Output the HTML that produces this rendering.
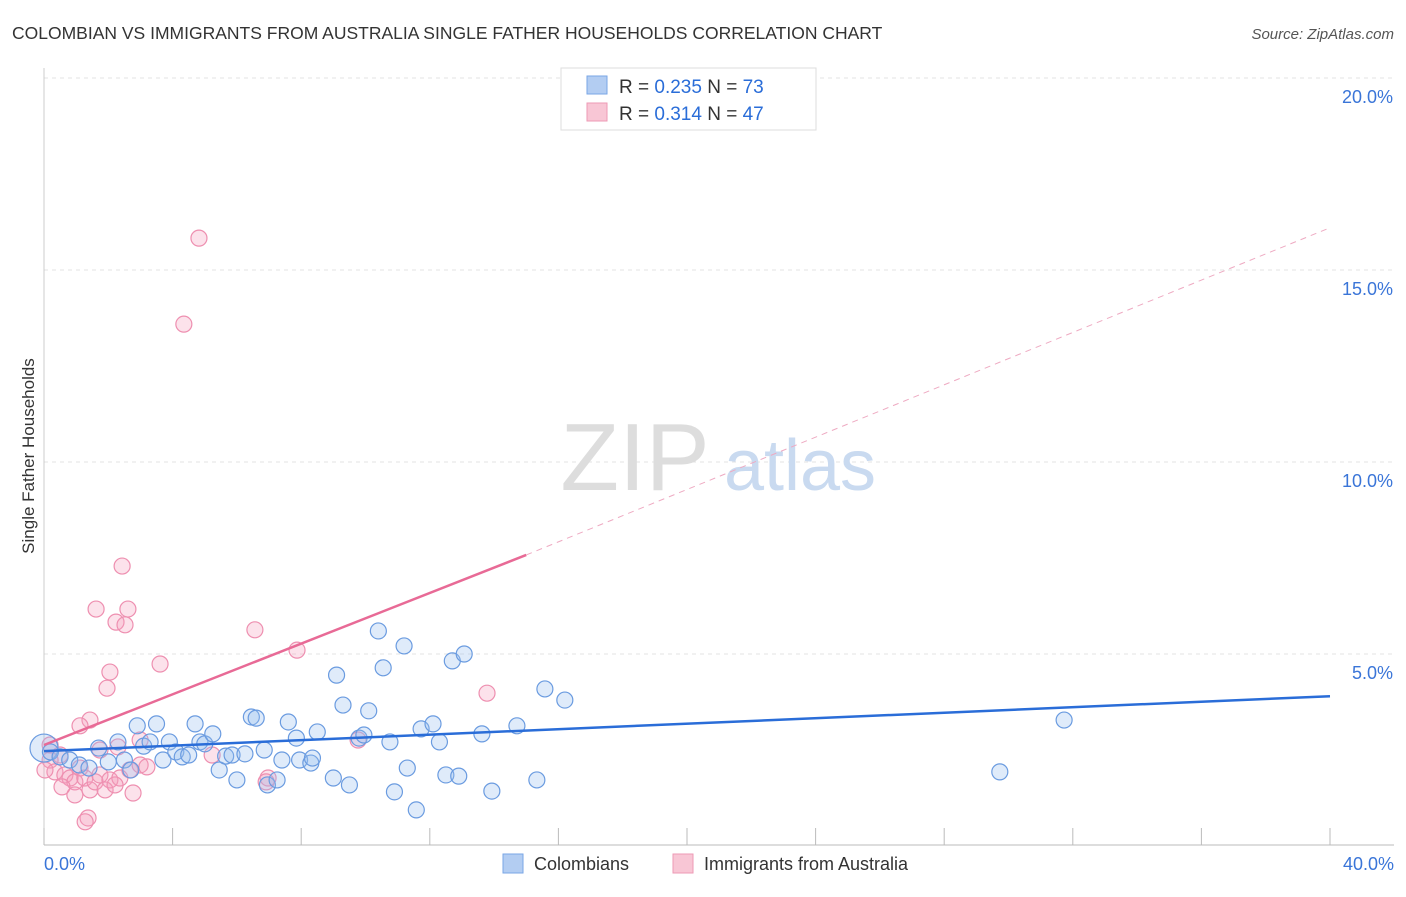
<!DOCTYPE html>
<html><head><meta charset="utf-8"><style>
body{margin:0;background:#fff;font-family:"Liberation Sans",sans-serif;}
svg text{font-family:"Liberation Sans",sans-serif;}
</style></head><body>
<svg id="chart" width="1406" height="892" viewBox="0 0 1406 892" xmlns="http://www.w3.org/2000/svg">
<text x="12" y="39" font-size="17.5" fill="#333">COLOMBIAN VS IMMIGRANTS FROM AUSTRALIA SINGLE FATHER HOUSEHOLDS CORRELATION CHART</text>
<text x="1394" y="39" font-size="15" fill="#555" text-anchor="end" font-style="italic">Source: ZipAtlas.com</text>
<text transform="translate(34,456) rotate(-90)" font-size="17" fill="#333" text-anchor="middle">Single Father Households</text>
<g id="grid"></g>
<g id="axes"></g>
<g>
<text x="635" y="490" font-size="96" fill="#ddd" font-family="Liberation Serif" text-anchor="middle">ZIP</text>
<text x="800" y="490" font-size="72" fill="#c9daf0" text-anchor="middle">atlas</text>
</g>
<g id="pts"></g>
<g id="lines"></g>
<g>
<rect x="561" y="68" width="255" height="62" fill="#fff" stroke="#ddd"/>
<rect x="587" y="76" width="20" height="18" fill="#b3cdf2" stroke="#7aa6e6"/>
<text x="619" y="93" font-size="19" fill="#333">R = <tspan fill="#2a6dd8">0.235</tspan>   N = <tspan fill="#2a6dd8">73</tspan></text>
<rect x="587" y="103" width="20" height="18" fill="#f8c6d5" stroke="#ee9ab5"/>
<text x="619" y="120" font-size="19" fill="#333">R =  <tspan fill="#2a6dd8">0.314</tspan>   N = <tspan fill="#2a6dd8">47</tspan></text>
</g>
<g>
<rect x="503" y="854" width="20" height="19" fill="#b3cdf2" stroke="#7aa6e6"/>
<text x="534" y="870" font-size="18" fill="#333">Colombians</text>
<rect x="673" y="854" width="20" height="19" fill="#f8c6d5" stroke="#ee9ab5"/>
<text x="704" y="870" font-size="18" fill="#333">Immigrants from Australia</text>
</g>
</svg>
<script>
const xTicks=[0,4,8,12,16,20,24,28,32,36,40];
const yTicks=[5,10,15,20];
const blueX=[0,0.2,0.5,0.8,1.1,1.4,1.7,2,2.3,2.5,2.7,2.9,3.1,3.3,3.5,3.7,3.9,4.1,4.3,4.5,4.7,4.85,5,5.25,5.45,5.65,5.85,6,6.25,6.45,6.6,6.85,6.95,7.25,7.4,7.6,7.85,7.95,8.3,8.35,8.5,9,9.1,9.3,9.5,9.8,9.95,10.1,10.4,10.55,10.76,10.9,11.2,11.3,11.58,11.73,12.1,12.3,12.5,12.7,12.9,13.07,13.62,13.93,14.71,15.33,15.58,16.2,29.73,31.73];
const blueY=[2.55,2.45,2.32,2.24,2.11,2.03,2.55,2.19,2.71,2.24,1.98,3.13,2.6,2.71,3.18,2.24,2.71,2.45,2.32,2.37,3.18,2.71,2.66,2.92,1.98,2.34,2.37,1.72,2.4,3.36,3.33,2.5,1.59,1.72,2.24,3.23,2.81,2.24,2.16,2.29,2.97,1.77,4.45,3.67,1.59,2.81,2.89,3.52,5.6,4.64,2.71,1.41,5.21,2.03,0.94,3.05,3.18,2.71,1.85,4.82,1.82,5.0,2.92,1.43,3.13,1.72,4.09,3.8,1.93,3.28];
const pinkX=[4.82,4.35,2.43,1.62,2.61,2.24,2.52,6.56,7.87,3.61,2.05,1.96,13.78,1.43,1.12,2.3,1.74,0.5,0.19,0.34,0.65,0.81,0.96,1.12,1.27,1.43,1.59,1.74,2.05,2.36,2.67,2.77,1.37,1.28,2.99,5.23,6.97,6.91,9.77,0.19,0.03,0.96,1.9,0.56,2.99,3.2,2.21];
const pinkY=[15.83,13.59,7.29,6.17,6.17,5.83,5.76,5.63,5.1,4.74,4.53,4.11,3.98,3.28,3.13,2.58,2.5,2.37,2.24,1.93,1.85,1.77,1.67,2.03,1.77,1.46,1.67,1.85,1.72,1.77,1.98,1.38,0.73,0.63,2.11,2.37,1.77,1.67,2.76,2.63,1.98,1.33,1.46,1.54,2.76,2.06,1.59];
const blueLine=[[0,2.47],[40,3.9]];
const pinkSolid=[[0,2.63],[15,7.58]];
const pinkDash=[[15,7.58],[40,16.1]];
const X=v=>44+v*32.15, Y=v=>846-v*38.4;
const NS="http://www.w3.org/2000/svg";
function mk(tag,attrs,parent){const e=document.createElementNS(NS,tag);for(const k in attrs)e.setAttribute(k,attrs[k]);parent.appendChild(e);return e;}
const grid=document.getElementById('grid'),axes=document.getElementById('axes'),pts=document.getElementById('pts'),lines=document.getElementById('lines');
yTicks.forEach(t=>{
 const l=mk('line',{x1:44,x2:1394,y1:Y(t),y2:Y(t),stroke:'#e3e3e3','stroke-dasharray':'4,4'},grid);
 
 
 const tx=mk('text',{x:1393,y:Y(t)+25,'font-size':18,fill:'#3a75d8','text-anchor':'end'},axes);
 tx.textContent=t.toFixed(1)+'%';
 
 
});
const ax=mk('line',{x1:44,x2:1394,y1:845,y2:845,stroke:'#bbb'},axes);


const ay=mk('line',{x1:44,x2:44,y1:68,y2:845,stroke:'#ccc'},axes);


xTicks.forEach(t=>{
 const l=mk('line',{x1:X(t),x2:X(t),y1:828,y2:845,stroke:'#bbb'},axes);
 
 
});
[[0,'0.0%','start',44],[40,'40.0%','end',1394]].forEach(d=>{
 const tx=mk('text',{x:d[3],y:870,'font-size':18,fill:'#3a75d8','text-anchor':d[2]},axes);
 tx.textContent=d[1];
 
 
});
pinkX.forEach((x,i)=>{
 const c=mk('circle',{cx:X(x),cy:Y(pinkY[i]),r:8,fill:'rgba(244,160,190,0.3)',stroke:'#ee8fb0','stroke-width':1.2},pts);
 
 
});
blueX.forEach((x,i)=>{
 const c=mk('circle',{cx:X(x),cy:Y(blueY[i]),r:i==0?14:8,fill:'rgba(150,190,240,0.3)',stroke:'#6a9be0','stroke-width':1.2},pts);
 
 
});
const bl=mk('line',{x1:X(blueLine[0][0]),y1:Y(blueLine[0][1]),x2:X(blueLine[1][0]),y2:Y(blueLine[1][1]),stroke:'#2a6dd8','stroke-width':2.5},lines);


const ps=mk('line',{x1:X(pinkSolid[0][0]),y1:Y(pinkSolid[0][1]),x2:X(pinkSolid[1][0]),y2:Y(pinkSolid[1][1]),stroke:'#e86a96','stroke-width':2.5},lines);


const pd=mk('line',{x1:X(pinkDash[0][0]),y1:Y(pinkDash[0][1]),x2:X(pinkDash[1][0]),y2:Y(pinkDash[1][1]),stroke:'#eeaac2','stroke-width':1,'stroke-dasharray':'6,5'},lines);


</script>
</body></html>
